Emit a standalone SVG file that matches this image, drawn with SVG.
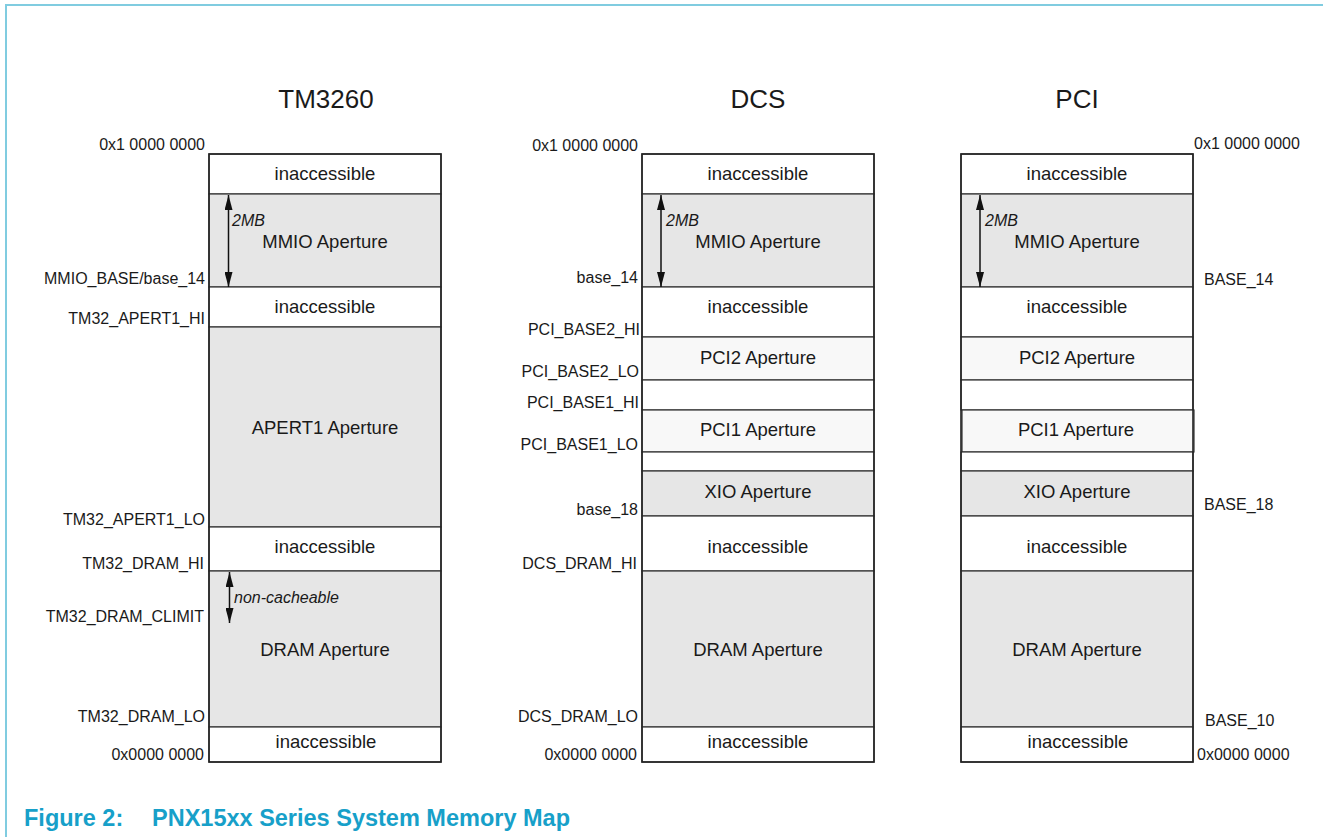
<svg xmlns="http://www.w3.org/2000/svg" width="1323" height="837" viewBox="0 0 1323 837">
<defs>
<marker id="ah" markerUnits="userSpaceOnUse" viewBox="0 0 15 8" markerWidth="15" markerHeight="8" refX="15" refY="4" orient="auto-start-reverse">
<path d="M0,0 L15,4 L0,8 z" fill="#111"/>
</marker>
<style>
text{font-family:"Liberation Sans",Arial,sans-serif;fill:#1a1a1a}
.t{font-size:26px;text-anchor:middle}
.c{font-size:18.5px;text-anchor:middle}
.l{font-size:16px;text-anchor:end}
.r{font-size:16px;text-anchor:start}
.i{font-size:16px;font-style:italic}
.g{fill:#e6e6e6;stroke:#333;stroke-width:1.2}
.w{fill:#ffffff;stroke:#333;stroke-width:1.2}
.p{fill:#f8f8f8;stroke:#333;stroke-width:1.2}
.o{fill:none;stroke:#222;stroke-width:1.6}
.a{stroke:#111;stroke-width:1.5;fill:none;marker-start:url(#ah);marker-end:url(#ah)}
.cap{font-size:23.5px;font-weight:bold;fill:#17a0c9}
</style>
</defs>
<rect width="1323" height="837" fill="#fff"/>
<path d="M6,837 V5 H1323" fill="none" stroke="#80cce0" stroke-width="2"/>

<text class="t" x="326" y="108">TM3260</text>
<text class="t" x="758" y="108">DCS</text>
<text class="t" x="1077" y="108">PCI</text>

<!-- TM3260 column -->
<g id="tm-inacc-top"><rect class="w" x="209" y="154" width="232" height="40"/><text class="c" x="325" y="180">inaccessible</text></g>
<g id="tm-mmio"><rect class="g" x="209" y="194" width="232" height="93"/><text class="c" x="325" y="248">MMIO Aperture</text><text class="i" x="232" y="226">2MB</text></g>
<g id="tm-inacc-2"><rect class="w" x="209" y="287" width="232" height="40"/><text class="c" x="325" y="313">inaccessible</text></g>
<g id="tm-apert1"><rect class="g" x="209" y="327" width="232" height="200"/><text class="c" x="325" y="434">APERT1 Aperture</text></g>
<g id="tm-inacc-3"><rect class="w" x="209" y="527" width="232" height="44"/><text class="c" x="325" y="553">inaccessible</text></g>
<g id="tm-dram"><rect class="g" x="209" y="571" width="232" height="156"/><text class="c" x="325" y="656">DRAM Aperture</text><text class="i" x="234" y="603">non-cacheable</text></g>
<g id="tm-inacc-bot"><rect class="w" x="209" y="727" width="232" height="35"/><text class="c" x="326" y="748">inaccessible</text></g>
<rect class="o" x="209" y="154" width="232" height="608"/>
<g id="tm-labels">
<text class="l" x="205" y="150">0x1 0000 0000</text>
<text class="l" x="205" y="284">MMIO_BASE/base_14</text>
<text class="l" x="205" y="324">TM32_APERT1_HI</text>
<text class="l" x="205" y="525">TM32_APERT1_LO</text>
<text class="l" x="204" y="569">TM32_DRAM_HI</text>
<text class="l" x="204" y="622">TM32_DRAM_CLIMIT</text>
<text class="l" x="205" y="722">TM32_DRAM_LO</text>
<text class="l" x="204" y="760">0x0000 0000</text>
</g>

<!-- DCS column -->
<g id="dcs-inacc-top"><rect class="w" x="642" y="154" width="232" height="40"/><text class="c" x="758" y="180">inaccessible</text></g>
<g id="dcs-mmio"><rect class="g" x="642" y="194" width="232" height="93"/><text class="c" x="758" y="248">MMIO Aperture</text><text class="i" x="666" y="226">2MB</text></g>
<g id="dcs-inacc-2"><rect class="w" x="642" y="287" width="232" height="50"/><text class="c" x="758" y="313">inaccessible</text></g>
<g id="dcs-pci2"><rect class="p" x="642" y="337" width="232" height="43"/><text class="c" x="758" y="364">PCI2 Aperture</text></g>
<g id="dcs-gap1"><rect class="w" x="642" y="380" width="232" height="30"/></g>
<g id="dcs-pci1"><rect class="p" x="642" y="410" width="232" height="42"/><text class="c" x="758" y="436">PCI1 Aperture</text></g>
<g id="dcs-gap2"><rect class="w" x="642" y="452" width="232" height="19"/></g>
<g id="dcs-xio"><rect class="g" x="642" y="471" width="232" height="45"/><text class="c" x="758" y="498">XIO Aperture</text></g>
<g id="dcs-inacc-3"><rect class="w" x="642" y="516" width="232" height="55"/><text class="c" x="758" y="553">inaccessible</text></g>
<g id="dcs-dram"><rect class="g" x="642" y="571" width="232" height="156"/><text class="c" x="758" y="656">DRAM Aperture</text></g>
<g id="dcs-inacc-bot"><rect class="w" x="642" y="727" width="232" height="35"/><text class="c" x="758" y="748">inaccessible</text></g>
<rect class="o" x="642" y="154" width="232" height="608"/>
<g id="dcs-labels">
<text class="l" x="638" y="151">0x1 0000 0000</text>
<text class="l" x="638" y="283">base_14</text>
<text class="l" x="640" y="335">PCI_BASE2_HI</text>
<text class="l" x="639" y="377">PCI_BASE2_LO</text>
<text class="l" x="639" y="408">PCI_BASE1_HI</text>
<text class="l" x="638" y="450">PCI_BASE1_LO</text>
<text class="l" x="638" y="515">base_18</text>
<text class="l" x="637" y="569">DCS_DRAM_HI</text>
<text class="l" x="638" y="722">DCS_DRAM_LO</text>
<text class="l" x="637" y="760">0x0000 0000</text>
</g>

<!-- PCI column -->
<g id="pci-inacc-top"><rect class="w" x="961" y="154" width="232" height="40"/><text class="c" x="1077" y="180">inaccessible</text></g>
<g id="pci-mmio"><rect class="g" x="961" y="194" width="232" height="93"/><text class="c" x="1077" y="248">MMIO Aperture</text><text class="i" x="985" y="226">2MB</text></g>
<g id="pci-inacc-2"><rect class="w" x="961" y="287" width="232" height="50"/><text class="c" x="1077" y="313">inaccessible</text></g>
<g id="pci-pci2"><rect class="p" x="961" y="337" width="232" height="43"/><text class="c" x="1077" y="364">PCI2 Aperture</text></g>
<g id="pci-gap1"><rect class="w" x="961" y="380" width="232" height="30"/></g>
<g id="pci-pci1"><rect class="p" x="962" y="410" width="232" height="42"/><text class="c" x="1076" y="436">PCI1 Aperture</text></g>
<g id="pci-gap2"><rect class="w" x="961" y="452" width="232" height="19"/></g>
<g id="pci-xio"><rect class="g" x="961" y="471" width="232" height="45"/><text class="c" x="1077" y="498">XIO Aperture</text></g>
<g id="pci-inacc-3"><rect class="w" x="961" y="516" width="232" height="55"/><text class="c" x="1077" y="553">inaccessible</text></g>
<g id="pci-dram"><rect class="g" x="961" y="571" width="232" height="156"/><text class="c" x="1077" y="656">DRAM Aperture</text></g>
<g id="pci-inacc-bot"><rect class="w" x="961" y="727" width="232" height="35"/><text class="c" x="1078" y="748">inaccessible</text></g>
<rect class="o" x="961" y="154" width="232" height="608"/>
<g id="pci-labels">
<text class="r" x="1194" y="149">0x1 0000 0000</text>
<text class="r" x="1204" y="285">BASE_14</text>
<text class="r" x="1204" y="510">BASE_18</text>
<text class="r" x="1205" y="726">BASE_10</text>
<text class="r" x="1197" y="760">0x0000 0000</text>
</g>

<g id="connectors">
<line class="a" x1="228.5" y1="195" x2="228.5" y2="287"/>
<line class="a" x1="229.5" y1="572" x2="229.5" y2="623"/>
<line class="a" x1="661" y1="195" x2="661" y2="287"/>
<line class="a" x1="980" y1="195" x2="980" y2="287"/>
</g>

<text class="cap" x="24" y="826">Figure 2:</text>
<text class="cap" x="152" y="826">PNX15xx Series System Memory Map</text>
</svg>
